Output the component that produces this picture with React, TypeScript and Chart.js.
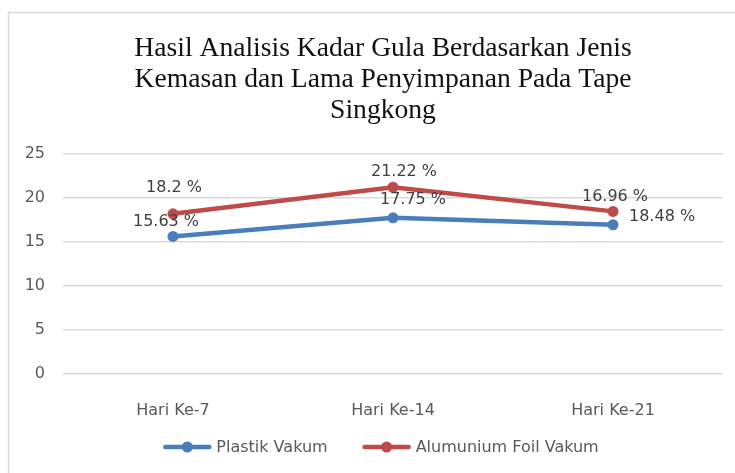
import React, { useEffect, useRef } from "react";
import { Chart, registerables } from "chart.js";

Chart.register(...registerables);

const categories = ["Hari Ke-7", "Hari Ke-14", "Hari Ke-21"];
const seriesNames = ["Plastik Vakum", "Alumunium Foil Vakum"];
const plastikVakum = [15.63, 17.75, 16.96];
const alumuniumFoilVakum = [18.2, 21.22, 18.48];
const plastikLabels = ["15.63 %", "17.75 %", "18.48 %"];
const alumuniumLabels = ["18.2 %", "21.22 %", "16.96 %"];
const yTicks = [0, 5, 10, 15, 20, 25];
const titleLines = [
  "Hasil Analisis Kadar Gula Berdasarkan Jenis",
  "Kemasan dan Lama Penyimpanan Pada Tape",
  "Singkong",
];

const BLUE = "#4a7ebb";
const RED = "#be4b48";
const SANS = '"DejaVu Sans", sans-serif';

// label placement relative to each point: [dx, dy, align]
const labelPlacement: [number, number, CanvasTextAlign][][] = [
  [
    [-7, -15, "center"],
    [20, -18, "center"],
    [16, -8, "left"],
  ],
  [
    [1, -26, "center"],
    [11, -15, "center"],
    [2, -15, "center"],
  ],
];

const decorPlugin = {
  id: "decor",
  beforeDraw(chart: any) {
    const ctx = chart.ctx;
    ctx.save();
    ctx.fillStyle = "#ffffff";
    ctx.fillRect(0, 0, chart.width, chart.height);
    ctx.strokeStyle = "#d9d9d9";
    ctx.lineWidth = 1.5;
    ctx.beginPath();
    ctx.moveTo(8.5, chart.height);
    ctx.lineTo(8.5, 12.5);
    ctx.lineTo(chart.width, 12.5);
    ctx.stroke();
    ctx.restore();
  },
  afterDraw(chart: any) {
    const ctx = chart.ctx;
    ctx.save();
    // title
    ctx.fillStyle = "#111111";
    ctx.font = '27.6px "Liberation Serif", serif';
    ctx.textAlign = "center";
    ctx.textBaseline = "alphabetic";
    titleLines.forEach((line, i) => {
      ctx.fillText(line, 383, 56 + i * 31);
    });

    // legend
    ctx.font = "16px " + SANS;
    ctx.textBaseline = "middle";
    ctx.textAlign = "left";
    const markerW = 48;
    const textGap = 5;
    const itemGap = 35;
    const widths = chart.data.datasets.map(
      (ds: any) => markerW + textGap + ctx.measureText(ds.label).width
    );
    const total = widths.reduce((a: number, b: number) => a + b, 0) + itemGap * (widths.length - 1);
    let x = 381 - total / 2;
    const y = 447;
    chart.data.datasets.forEach((ds: any, i: number) => {
      ctx.strokeStyle = ds.borderColor;
      ctx.lineWidth = 4.5;
      ctx.lineCap = "round";
      ctx.beginPath();
      ctx.moveTo(x + 2, y);
      ctx.lineTo(x + markerW - 2, y);
      ctx.stroke();
      ctx.fillStyle = ds.borderColor;
      ctx.beginPath();
      ctx.arc(x + markerW / 2, y, 5.5, 0, Math.PI * 2);
      ctx.fill();
      ctx.fillStyle = "#595959";
      ctx.fillText(ds.label, x + markerW + textGap, y + 1);
      x += widths[i] + itemGap;
    });
    ctx.restore();
  },
  afterDatasetsDraw(chart: any) {
    const ctx = chart.ctx;
    const allLabels = [plastikLabels, alumuniumLabels];
    ctx.save();
    ctx.font = "16px " + SANS;
    ctx.fillStyle = "#404040";
    ctx.textBaseline = "middle";
    chart.data.datasets.forEach((_ds: any, i: number) => {
      const meta = chart.getDatasetMeta(i);
      meta.data.forEach((pt: any, j: number) => {
        const [dx, dy, align] = labelPlacement[i][j];
        ctx.textAlign = align;
        ctx.fillText(allLabels[i][j], pt.x + dx, pt.y + dy);
      });
    });
    ctx.restore();
  },
};

export default function App() {
  const ref = useRef<HTMLCanvasElement | null>(null);
  useEffect(() => {
    if (!ref.current) return;
    const chart = new Chart(ref.current, {
      type: "line",
      data: {
        labels: categories,
        datasets: [
          {
            label: seriesNames[0],
            data: plastikVakum,
            borderColor: BLUE,
            backgroundColor: BLUE,
            borderWidth: 4.5,
            pointRadius: 5.5,
            pointBorderWidth: 0,
            pointBackgroundColor: BLUE,
            tension: 0,
          },
          {
            label: seriesNames[1],
            data: alumuniumFoilVakum,
            borderColor: RED,
            backgroundColor: RED,
            borderWidth: 4.5,
            pointRadius: 5.5,
            pointBorderWidth: 0,
            pointBackgroundColor: RED,
            tension: 0,
          },
        ],
      },
      options: {
        responsive: false,
        animation: false,
        events: [],
        layout: { padding: { top: 154, right: 12, left: 0, bottom: 0 } },
        plugins: {
          legend: { display: false },
          title: { display: false },
          tooltip: { enabled: false },
        },
        scales: {
          x: {
            offset: true,
            grid: { display: false },
            border: { display: false },
            ticks: {
              color: "#595959",
              font: { family: SANS, size: 16 },
              padding: 19,
              maxRotation: 0,
            },
            afterFit(scale: any) {
              scale.height = 99;
            },
          },
          y: {
            min: 0,
            max: 25,
            afterBuildTicks(scale: any) {
              scale.ticks = yTicks.map((v) => ({ value: v }));
            },
            grid: { color: "#d9d9d9", lineWidth: 1.5, drawTicks: false },
            border: { display: false },
            ticks: {
              color: "#595959",
              font: { family: SANS, size: 16 },
              padding: 18,
            },
            afterFit(scale: any) {
              scale.width = 63;
            },
          },
        },
      },
      plugins: [decorPlugin],
    });
    return () => chart.destroy();
  }, []);
  return (
    <div style={{ position: "absolute", left: 0, top: 0, width: 735, height: 473 }}>
      <canvas ref={ref} width={735} height={473} style={{ display: "block" }} />
    </div>
  );
}
